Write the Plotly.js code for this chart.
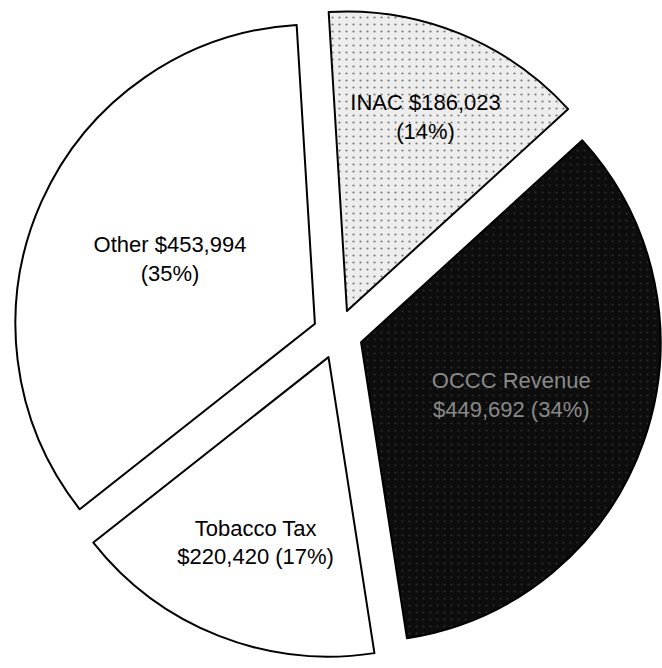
<!DOCTYPE html>
<html>
<head>
<meta charset="utf-8">
<script src="https://cdn.plot.ly/plotly-3.0.1.min.js"></script>
<style>html,body{margin:0;padding:0;background:#fff;}#chart{width:662px;height:668px;}</style>
</head>
<body>
<div id="chart"></div>
<script>
var categories = ["INAC", "OCCC Revenue", "Tobacco Tax", "Other"];
var amounts = [186023, 449692, 220420, 453994];
var percentLabels = ["14%", "34%", "17%", "35%"];
var sliceText = [
  "INAC $186,023<br>(14%)",
  "OCCC Revenue<br>$449,692 (34%)",
  "Tobacco Tax<br>$220,420 (17%)",
  "Other $453,994<br>(35%)"
];

var trace = {
  type: "pie",
  labels: categories,
  values: amounts,
  text: sliceText,
  textinfo: "text",
  texttemplate: "%{text}",
  textposition: "inside",
  insidetextorientation: "horizontal",
  sort: false,
  direction: "clockwise",
  rotation: -3.5,
  pull: 0.083,
  hoverinfo: "none",
  marker: {
    colors: ["#ededed", "#0d0d0d", "#ffffff", "#ffffff"],
    line: {color: "#000000", width: 2},
    pattern: {
      shape: [".", ".", "", ""],
      fgcolor: ["#7a7a7a", "#2a2a2a", "#ffffff", "#ffffff"],
      bgcolor: ["#ededed", "#0d0d0d", "#ffffff", "#ffffff"],
      size: 7,
      solidity: 0.08
    }
  },
  insidetextfont: {
    family: "Liberation Sans, Arial, sans-serif",
    size: 22,
    color: ["#000000", "#8a8a8a", "#000000", "#000000"]
  },
  domain: {x: [0.02, 1], y: [0, 1]}
};

var layout = {
  width: 662,
  height: 668,
  margin: {l: 0, r: 0, t: 0, b: 0},
  showlegend: false,
  paper_bgcolor: "#ffffff",
  plot_bgcolor: "#ffffff"
};

Plotly.newPlot("chart", [trace], layout, {displayModeBar: false, staticPlot: true});
</script>
</body>
</html>
